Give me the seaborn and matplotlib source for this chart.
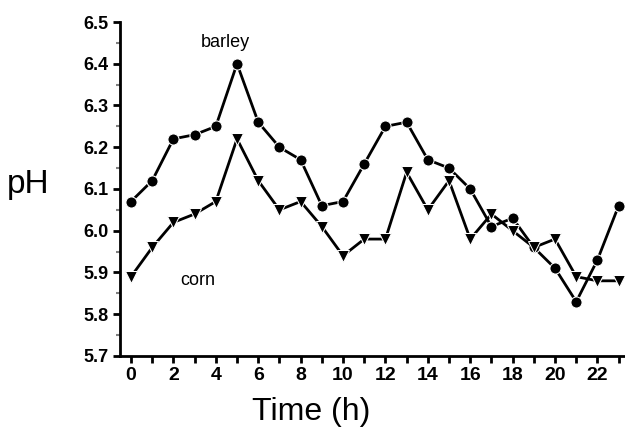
import pandas as pd
import numpy as np
import matplotlib
matplotlib.use("Agg")
import matplotlib.pyplot as plt
import seaborn as sns

# data
time_h = list(range(24))
barley = [6.07, 6.12, 6.22, 6.23, 6.25, 6.40, 6.26, 6.20, 6.17, 6.06, 6.07, 6.16,
          6.25, 6.26, 6.17, 6.15, 6.10, 6.01, 6.03, 5.96, 5.91, 5.83, 5.93, 6.06]
corn = [5.89, 5.96, 6.02, 6.04, 6.07, 6.22, 6.12, 6.05, 6.07, 6.01, 5.94, 5.98,
        5.98, 6.14, 6.05, 6.12, 5.98, 6.04, 6.00, 5.96, 5.98, 5.89, 5.88, 5.88]
y_ticks = [5.7, 5.8, 5.9, 6.0, 6.1, 6.2, 6.3, 6.4, 6.5]
x_ticks = list(range(0, 24, 2))

df = pd.DataFrame({"time": time_h * 2,
                   "pH": barley + corn,
                   "crop": ["barley"] * 24 + ["corn"] * 24})

sns.set_style("white")
plt.rcParams['font.family'] = ['Liberation Sans', 'DejaVu Sans']
plt.rcParams['text.color'] = 'black'
plt.rcParams['axes.labelcolor'] = 'black'
plt.rcParams['xtick.color'] = 'black'
plt.rcParams['ytick.color'] = 'black'

fig = plt.figure(figsize=(6.25, 4.4), dpi=100)
ax = fig.add_axes([0.192, 0.191, 0.808, 0.759])

sns.lineplot(data=df, x="time", y="pH", style="crop", markers={"barley": "o", "corn": "v"},
             dashes=False, color="black", linewidth=2, markersize=8, ax=ax, legend=False)

ax.text(4.45, 6.45, "barley", fontsize=13, ha="center", va="center")
ax.text(3.15, 5.88, "corn", fontsize=13, ha="center", va="center")

ax.set_xlim(-0.52, 23.3)
ax.set_ylim(5.7, 6.5)
ax.set_xticks(x_ticks)
ax.set_xticks(time_h, minor=True)
ax.set_yticks(y_ticks)
ax.set_yticks(np.arange(5.75, 6.5, 0.1), minor=True)
ax.set_yticklabels([f"{v:.1f}" for v in y_ticks], fontweight="bold", fontsize=13)
ax.set_xticklabels([str(v) for v in x_ticks], fontweight="bold", fontsize=14)
ax.tick_params(bottom=True, left=True, which="both")
ax.tick_params(axis="both", which="major", direction="out", length=5, width=2, color="black")
ax.tick_params(axis="x", which="minor", direction="out", length=5, width=2, color="black")
ax.tick_params(axis="y", which="minor", direction="out", length=3, width=1.5, color="gray")
ax.tick_params(axis="x", which="major", pad=3)
ax.tick_params(axis="y", which="major", pad=3)

for s in ["top", "right"]:
    ax.spines[s].set_visible(False)
for s in ["left", "bottom"]:
    ax.spines[s].set_linewidth(2)
    ax.spines[s].set_color("black")

ax.set_xlabel("Time (h)", fontsize=23, va="center")
ax.xaxis.set_label_coords(0.378, -0.168)
ax.set_ylabel("pH", fontsize=24, rotation=0, va="center", ha="center")
ax.yaxis.set_label_coords(-0.182, 0.512)

fig.savefig("out.png", dpi=100)
